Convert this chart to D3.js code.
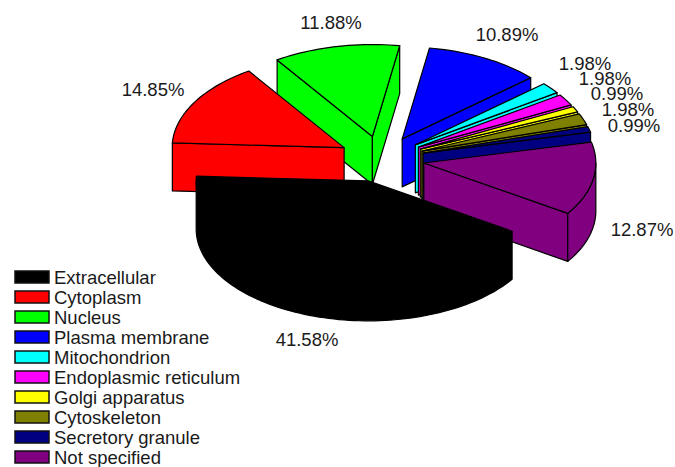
<!DOCTYPE html>
<html>
<head>
<meta charset="utf-8">
<style>
  html, body { margin: 0; padding: 0; background: #fff; }
  svg { display: block; }
  text { font-family: "Liberation Sans", Arial, sans-serif; fill: #1a1a1a; }
</style>
<script src="https://cdn.jsdelivr.net/npm/d3@7"></script>
</head>
<body>
<svg id="chart" width="675" height="467"></svg>
<script>
// Subcellular location shares, in drawing order starting from the Extracellular slice.
const categories = ["Extracellular", "Cytoplasm", "Nucleus", "Plasma membrane", "Mitochondrion",
  "Endoplasmic reticulum", "Golgi apparatus", "Cytoskeleton", "Secretory granule", "Not specified"];
const percentages = [41.58, 14.85, 11.88, 10.89, 1.98, 1.98, 0.99, 1.98, 0.99, 12.87];
const colors = ["#000000", "#ff0000", "#00ff00", "#0000ff", "#00ffff",
  "#ff00ff", "#ffff00", "#808000", "#000080", "#800080"];

// Hand-placed label centres: the small slices stack their labels in a staircase.
const labelX = [307, 153, 331, 507, 585, 605, 617, 628, 634, 642];
const labelY = [339, 89, 22, 34, 63, 78, 93, 109, 125, 229];

const svg = d3.select("#chart");

// Tilted pie geometry
const cx = 381.5, cy = 159;
const rx = 172, ry = 92, depth = 48, explode = 0.25;
const startAngle = 123.2 * Math.PI / 180;

// Unit circle to screen ellipse; angles run clockwise from 12 o'clock.
const ex = d3.scaleLinear().domain([-1, 1]).range([-rx, rx]);
const ey = d3.scaleLinear().domain([-1, 1]).range([ry, -ry]);
const ellipse = t => [ex(Math.sin(t)), ey(Math.cos(t))];

const pie = d3.pie().sort(null).value(d => d)
  .startAngle(startAngle).endAngle(startAngle + 2 * Math.PI);

const slices = pie(percentages).map((s, i) => {
  const mid = (s.startAngle + s.endAngle) / 2;
  const [ox, oy] = ellipse(mid);
  return { ...s, i, mid, apex: [cx + explode * ox, cy + explode * oy] };
});

const line = d3.line();
const at = (s, t, drop = 0) => {
  const [x, y] = ellipse(t);
  return [s.apex[0] + x, s.apex[1] + y + drop];
};
const samples = (a, b) => {
  const n = Math.max(2, Math.ceil((b - a) / 0.03));
  return d3.range(n + 1).map(k => a + (b - a) * k / n);
};
const under = ([x, y]) => [x, y + depth];

function drawFace(pts, s) {
  svg.append("path")
    .attr("d", line(pts) + "Z")
    .attr("fill", colors[s.i])
    .attr("stroke", "#000")
    .attr("stroke-width", 1.2)
    .attr("stroke-linejoin", "round");
}

// A radial wall shows only when the slice body lies above its edge on screen.
function radialWallVisible(s, t) {
  const p = at(s, t), m = at(s, s.mid);
  const ax = p[0] - s.apex[0], ay = p[1] - s.apex[1];
  const inner = ax * (m[1] - s.apex[1]) - ay * (m[0] - s.apex[0]);
  const down = ax * 1;
  return inner * down < 0;
}

// Back slices first, so nearer ones paint over them.
const painted = slices.slice().sort((a, b) => Math.cos(b.mid) - Math.cos(a.mid));

painted.forEach(s => {
  [s.startAngle, s.endAngle].forEach(t => {
    if (radialWallVisible(s, t)) {
      const p = at(s, t);
      drawFace([s.apex, p, under(p), under(s.apex)], s);
    }
  });
  // Outer rim: only the part of the arc that faces the viewer.
  for (const turn of [0, 2 * Math.PI]) {
    const a = Math.max(s.startAngle, Math.PI / 2 + turn);
    const b = Math.min(s.endAngle, 1.5 * Math.PI + turn);
    if (b > a) {
      const rim = samples(a, b).map(t => at(s, t));
      drawFace(rim.concat(rim.slice().reverse().map(under)), s);
    }
  }
  drawFace([s.apex, ...samples(s.startAngle, s.endAngle).map(t => at(s, t))], s);
});

// Percentage labels
svg.selectAll("text.pct").data(slices).join("text")
  .attr("class", "pct")
  .attr("x", s => labelX[s.i])
  .attr("y", s => labelY[s.i])
  .attr("text-anchor", "middle")
  .attr("dominant-baseline", "central")
  .attr("font-size", 18.5)
  .text(s => percentages[s.i].toFixed(2) + "%");

// Legend
const legendY = d3.scalePoint().domain(categories).range([277, 457]);
const legend = svg.selectAll("g.key").data(categories).join("g")
  .attr("class", "key")
  .attr("transform", d => `translate(0,${legendY(d)})`);
legend.append("rect")
  .attr("x", 15).attr("y", -6).attr("width", 34).attr("height", 12)
  .attr("fill", (d, i) => colors[i])
  .attr("stroke", "#111").attr("stroke-width", 1.5);
legend.append("text")
  .attr("x", 54).attr("y", 0)
  .attr("dominant-baseline", "central")
  .attr("font-size", 18.5)
  .text(d => d);
</script>
</body>
</html>
